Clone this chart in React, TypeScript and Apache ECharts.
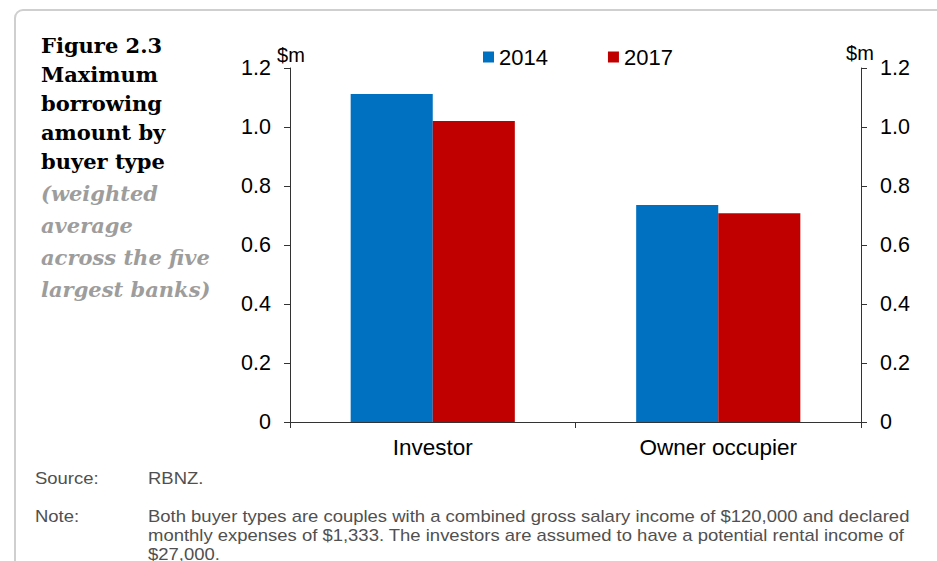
import React, { useEffect, useRef } from "react";
import * as echarts from "echarts";

const categories = ["Investor", "Owner occupier"];
const seriesNames = ["2014", "2017"];
const values2014 = [1.112, 0.736];
const values2017 = [1.02, 0.708];
const colors = ["#0070C0", "#C00000"];
const unitLabel = "$m";
const titleLines = ["Figure 2.3", "Maximum", "borrowing", "amount by", "buyer type"];
const subtitleLines = ["(weighted", "average", "across the five", "largest banks)"];
const noteLines = [
  "Both buyer types are couples with a combined gross salary income of $120,000 and declared",
  "monthly expenses of $1,333. The investors are assumed to have a potential rental income of",
  "$27,000.",
];

export default function App() {
  const ref = useRef<HTMLDivElement>(null);
  useEffect(() => {
    const chart = echarts.init(ref.current!, null, { renderer: "svg" });
    const font = "'Liberation Sans', Arial, sans-serif";
    const yAxisBase = (pos: "left" | "right") => ({
      type: "value" as const,
      position: pos,
      min: 0,
      max: 1.2,
      interval: 0.2,
      axisLine: { show: true, lineStyle: { color: "#333", width: 1 } },
      axisTick: { show: true, length: 6, lineStyle: { color: "#333" } },
      splitLine: { show: false },
      axisLabel: {
        color: "#000",
        fontSize: 21.5,
        fontFamily: font,
        margin: 19,
        formatter: (v: number) => (v === 0 ? "0" : v.toFixed(1)),
      },
    });
    const graphics: any[] = [
      {
        type: "rect",
        shape: { x: 15, y: 10, width: 1000, height: 700, r: 8 },
        style: { fill: "none", stroke: "#cfcfcf", lineWidth: 2 },
        z: -1,
      },
      {
        type: "text",
        x: 291,
        y: 55,
        style: { text: unitLabel, fill: "#000", font: `20px ${font}`, textAlign: "center", textVerticalAlign: "middle" },
      },
      {
        type: "text",
        x: 860,
        y: 53,
        style: { text: unitLabel, fill: "#000", font: `20px ${font}`, textAlign: "center", textVerticalAlign: "middle" },
      },
    ];
    titleLines.forEach((t, i) => {
      graphics.push({
        type: "text",
        x: 41,
        y: 45 + i * 29,
        style: {
          text: t,
          fill: "#000",
          font: "bold 21px 'DejaVu Serif', serif",
          textVerticalAlign: "middle",
        },
      });
    });
    subtitleLines.forEach((t, i) => {
      graphics.push({
        type: "text",
        x: 41,
        y: 193 + i * 32,
        style: {
          text: t,
          fill: "#9d9d9d",
          font: "italic bold 21px 'DejaVu Serif', serif",
          textVerticalAlign: "middle",
        },
      });
    });
    const noteText = (text: string, x: number, y: number) => ({
      type: "text",
      x,
      y,
      scaleX: 1.155,
      style: { text, fill: "#505050", font: `16px ${font}`, textVerticalAlign: "middle" },
    });
    graphics.push(noteText("Source:", 35, 478));
    graphics.push(noteText("RBNZ.", 148, 478));
    graphics.push(noteText("Note:", 35, 516));
    noteLines.forEach((t, i) => graphics.push(noteText(t, 148, 516 + i * 19)));

    chart.setOption({
      animation: false,
      grid: { left: 290, right: 76, top: 68, bottom: 139, containLabel: false },
      legend: {
        data: seriesNames,
        top: 46,
        left: 483,
        padding: 0,
        itemWidth: 11,
        itemHeight: 11,
        itemGap: 60,
        icon: "rect",
        textStyle: { color: "#000", fontSize: 22, fontFamily: font, padding: [0, 0, 0, 0] },
      },
      xAxis: {
        type: "category",
        data: categories,
        axisLine: { show: true, lineStyle: { color: "#333", width: 1 } },
        axisTick: { show: true, alignWithLabel: false, length: 6, lineStyle: { color: "#333" } },
        axisLabel: { color: "#000", fontSize: 22.5, fontFamily: font, margin: 14 },
      },
      yAxis: [yAxisBase("left"), yAxisBase("right")],
      series: [
        {
          name: seriesNames[0],
          type: "bar",
          data: values2014,
          barGap: "0%",
          barCategoryGap: "42.5%",
          itemStyle: { color: colors[0] },
        },
        {
          name: seriesNames[1],
          type: "bar",
          data: values2017,
          barGap: "0%",
          barCategoryGap: "42.5%",
          itemStyle: { color: colors[1] },
        },
      ],
      graphic: graphics,
    });
    return () => chart.dispose();
  }, []);
  return <div ref={ref} style={{ width: 937, height: 561, position: "absolute", left: 0, top: 0 }} />;
}
